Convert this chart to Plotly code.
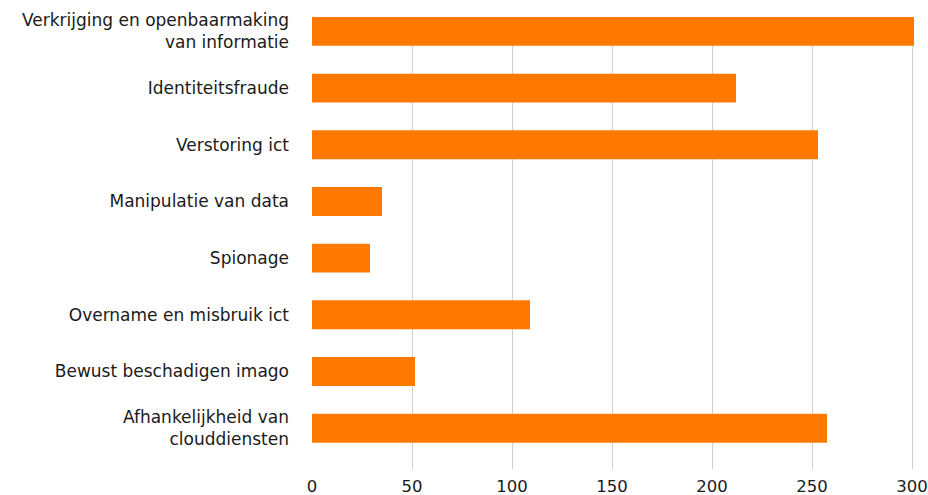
import plotly.graph_objects as go

categories = [
    "Verkrijging en openbaarmaking<br>van informatie",
    "Identiteitsfraude",
    "Verstoring ict",
    "Manipulatie van data",
    "Spionage",
    "Overname en misbruik ict",
    "Bewust beschadigen imago",
    "Afhankelijkheid van<br>clouddiensten",
]
values = [301, 212, 253, 35, 29, 109, 51.5, 257.5]
x_ticks = [0, 50, 100, 150, 200, 250, 300]

W, H = 928, 495
L, R, T, B = 312, 4, 17, 26

fig = go.Figure(go.Bar(
    x=values,
    y=categories,
    orientation="h",
    marker=dict(color="#ff7900", line=dict(width=0)),
    width=0.51,
))

fig.update_layout(
    width=W, height=H,
    margin=dict(l=L, r=R, t=T, b=B, autoexpand=False),
    plot_bgcolor="white", paper_bgcolor="white",
    font=dict(family="DejaVu Sans, sans-serif", size=16, color="#1a1a1a"),
    showlegend=False,
)
fig.update_xaxes(
    range=[0, 306],
    tickvals=x_ticks,
    showgrid=True, gridcolor="#d0d0d0", gridwidth=1.3,
    zeroline=False, showline=False,
    ticks="", ticklabelstandoff=5,
    tickfont=dict(size=16.5),
    automargin=False,
)
fig.update_yaxes(
    type="category",
    categoryorder="array", categoryarray=categories,
    range=[7.72, -0.254],
    showgrid=False, zeroline=False, showline=False,
    ticks="", ticklabelstandoff=22,
    tickfont=dict(size=17),
    automargin=False,
)
fig.write_html(
    "out.html",
    config={"displayModeBar": False},
    post_script="document.body.style.margin='0';document.documentElement.style.overflow='hidden';",
)
